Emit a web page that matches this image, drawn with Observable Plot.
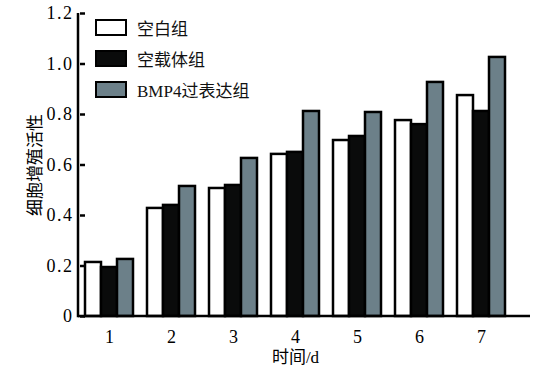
<!DOCTYPE html>
<html><head><meta charset="utf-8">
<script src="https://cdn.jsdelivr.net/npm/d3@7"></script>
<script src="https://cdn.jsdelivr.net/npm/@observablehq/plot@0.6"></script>
<style>
body{margin:0;background:#fff;}
#wrap{position:relative;width:536px;height:371px;}
.legend{position:absolute;left:95px;top:12px;font-family:"Liberation Serif","Noto Sans CJK SC",serif;font-size:17px;color:#111;}
.row{display:flex;align-items:center;height:31px;}
.sw{width:28px;height:13px;border:2.5px solid #000;margin-right:10px;}
g[aria-label="y-axis tick"]{stroke-width:2.5px;}
g[aria-label="y-axis tick label"]{font-size:18px;letter-spacing:1.5px;}
g[aria-label="fx-axis tick label"]{font-size:18px;}
</style></head>
<body><div id="wrap"></div>
<script>
const days = ["1","2","3","4","5","6","7"];
const groups = ["空白组","空载体组","BMP4过表达组"];
const colors = ["#ffffff","#0a0b0b","#6c8089"];
const blank  = [0.214,0.428,0.507,0.642,0.697,0.776,0.875];
const vector = [0.194,0.440,0.519,0.650,0.713,0.760,0.812];
const bmp4   = [0.226,0.515,0.626,0.812,0.808,0.927,1.026];
const yTicks = [0,0.2,0.4,0.6,0.8,1.0,1.2];

const series = [blank, vector, bmp4];
const data = [];
days.forEach((d,i)=>groups.forEach((g,j)=>data.push({day:d, group:g, value:series[j][i]})));

const mL=78, mR=23, mT=13, mB=55;
const plot = Plot.plot({
  width:536, height:371, marginLeft:mL, marginRight:mR, marginTop:mT, marginBottom:mB,
  style:{fontFamily:'"Liberation Serif","Noto Sans CJK SC",serif', fontSize:"17px", color:"#000", background:"#fff"},
  fx:{domain:days, paddingInner:0.06, paddingOuter:0, label:"时间/d", labelAnchor:"center", tickSize:0, tickPadding:14, labelOffset:46},
  x:{domain:groups, axis:null, paddingInner:0, paddingOuter:0.3},
  y:{domain:[0,1.2], ticks:yTicks, tickFormat:d=>d===0?"0":d.toFixed(1), label:"细胞增殖活性", labelArrow:"none", labelAnchor:"center", labelOffset:52, tickSize:-5, tickPadding:12},
  color:{domain:groups, range:colors},
  marks:[
    Plot.barY(data,{fx:"day", x:"group", y:"value", fill:"group", stroke:"#000", strokeWidth:2.5})
  ]
});
document.getElementById("wrap").appendChild(plot);
const svgNode = plot.tagName.toLowerCase()==="svg"?plot:plot.querySelector("svg");
const svg = d3.select(svgNode);
svg.selectAll("text").each(function(){
  const t=this.textContent; if(/[→↑]/.test(t)) this.textContent=t.replace(/\s*[→↑]\s*/g,"");
});
const ys = plot.scale("y");
svg.append("line").attr("x1",mL).attr("x2",530).attr("y1",ys.apply(0)).attr("y2",ys.apply(0)).attr("stroke","#000").attr("stroke-width",2.5);
svg.append("line").attr("x1",mL).attr("x2",mL).attr("y1",ys.apply(0)+1.25).attr("y2",ys.apply(1.2)).attr("stroke","#000").attr("stroke-width",2.5);

const leg = document.createElement("div");
leg.className="legend";
groups.forEach((g,j)=>{
  const r=document.createElement("div");r.className="row";
  const s=document.createElement("div");s.className="sw";s.style.background=colors[j];
  const t=document.createElement("span");t.textContent=g;
  r.appendChild(s);r.appendChild(t);leg.appendChild(r);
});
document.getElementById("wrap").appendChild(leg);
</script></body></html>
